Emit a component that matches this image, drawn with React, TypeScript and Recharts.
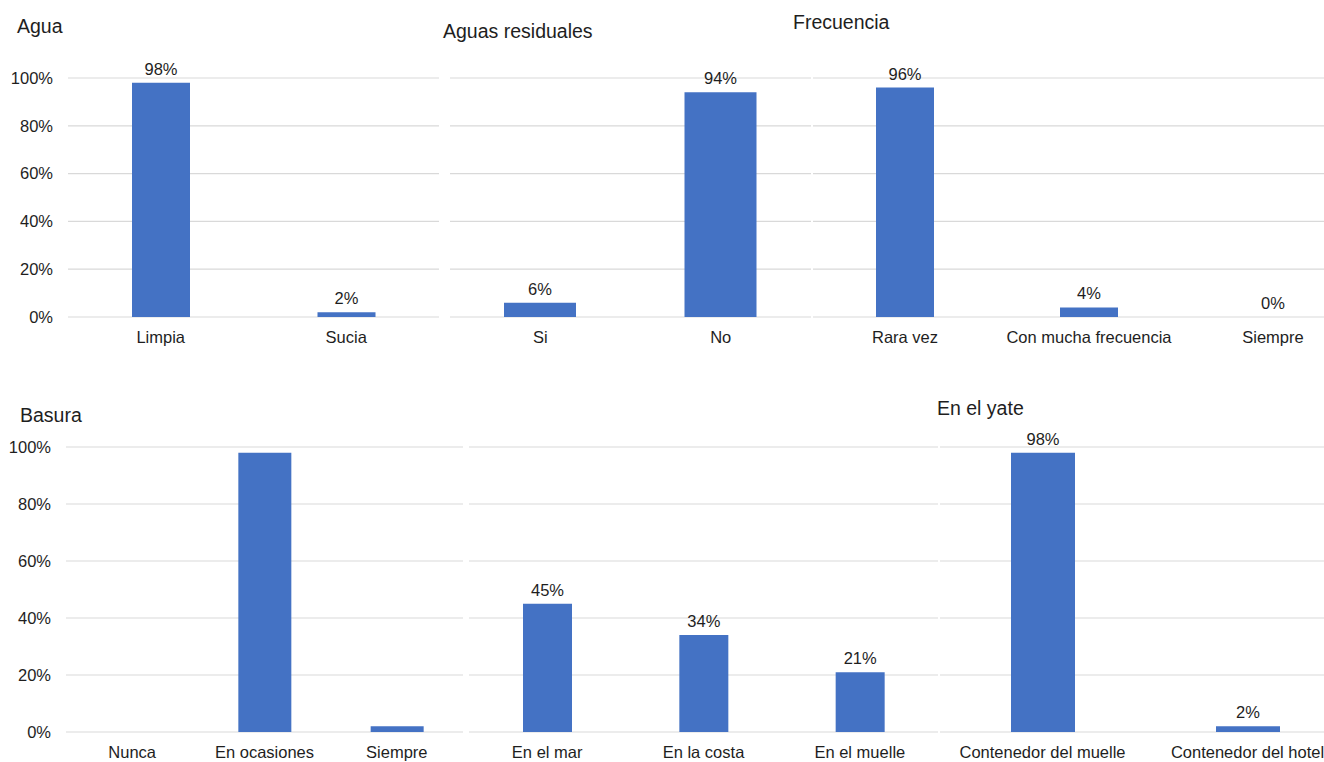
import { BarChart, Bar, XAxis, YAxis, CartesianGrid, LabelList } from 'recharts';

const yTicks = [0, 20, 40, 60, 80, 100];

const aguaCategorias = ['Limpia', 'Sucia'];
const aguaValores = [98, 2];

const residualesCategorias = ['Si', 'No'];
const residualesValores = [6, 94];

const frecuenciaCategorias = ['Rara vez', 'Con mucha frecuencia', 'Siempre'];
const frecuenciaValores = [96, 4, 0];

const basuraCategorias = ['Nunca', 'En ocasiones', 'Siempre'];
const basuraValores = [0, 98, 2];

const lugarCategorias = ['En el mar', 'En la costa', 'En el muelle'];
const lugarValores = [45, 34, 21];

const yateCategorias = ['Contenedor del muelle', 'Contenedor del hotel'];
const yateValores = [98, 2];

const toRows = (cats: string[], vals: number[]) => cats.map((name, i) => ({ name, value: vals[i] }));

const BLUE = '#4472C4';
const TEXT = '#1e1e1e';
const FONT = '"Liberation Sans", Arial, sans-serif';

interface PanelProps {
  data: { name: string; value: number }[];
  plotLeft: number;
  plotTop: number;
  plotWidth: number;
  plotHeight: number;
  barSize: number;
  withAxis?: boolean;
  withLabels?: boolean;
}

function Panel({ data, plotLeft, plotTop, plotWidth, plotHeight, barSize, withAxis, withLabels }: PanelProps) {
  const axisW = withAxis ? 68 : 0;
  const marginTop = 40;
  const axisH = 34;
  return (
    <div style={{ position: 'absolute', left: plotLeft - axisW, top: plotTop - marginTop }}>
      <BarChart
        width={plotWidth + axisW}
        height={marginTop + plotHeight + axisH}
        data={data}
        margin={{ top: marginTop, right: 0, bottom: 0, left: 0 }}
      >
        <CartesianGrid vertical={false} stroke="#d9d9d9" strokeWidth={1.2} />
        <XAxis
          dataKey="name"
          axisLine={false}
          tickLine={false}
          height={axisH}
          tickMargin={8}
          interval={0}
          tick={{ fontSize: 16.5, fill: TEXT }}
        />
        <YAxis
          hide={!withAxis}
          width={axisW}
          domain={[0, 100]}
          ticks={yTicks}
          tickFormatter={(v) => `${v}%`}
          axisLine={false}
          tickLine={false}
          tickMargin={9}
          tick={{ fontSize: 16.5, fill: TEXT }}
        />
        <Bar dataKey="value" fill={BLUE} barSize={barSize} minPointSize={0.01} isAnimationActive={false}>
          {withLabels && (
            <LabelList
              dataKey="value"
              position="top"
              offset={8}
              formatter={(v: any) => `${v}%`}
              style={{ fontSize: 16.5, fill: TEXT }}
            />
          )}
        </Bar>
      </BarChart>
    </div>
  );
}

function Title({ text, left, top }: { text: string; left: number; top: number }) {
  return (
    <div style={{ position: 'absolute', left, top, fontSize: 19.5, lineHeight: '20px', color: TEXT, whiteSpace: 'nowrap' }}>
      {text}
    </div>
  );
}

export default function App() {
  return (
    <div
      style={{
        position: 'fixed',
        left: 0,
        top: 0,
        width: 1324,
        height: 762,
        overflow: 'hidden',
        background: '#fff',
        fontFamily: FONT,
      }}
    >
      <Panel data={toRows(aguaCategorias, aguaValores)} plotLeft={68} plotTop={78} plotWidth={371} plotHeight={239} barSize={58} withAxis withLabels />
      <Panel data={toRows(residualesCategorias, residualesValores)} plotLeft={450} plotTop={78} plotWidth={361} plotHeight={239} barSize={72} withLabels />
      <Panel data={toRows(frecuenciaCategorias, frecuenciaValores)} plotLeft={813} plotTop={78} plotWidth={552} plotHeight={239} barSize={58} withLabels />

      <Panel data={toRows(basuraCategorias, basuraValores)} plotLeft={66} plotTop={447} plotWidth={397} plotHeight={285} barSize={53} withAxis />
      <Panel data={toRows(lugarCategorias, lugarValores)} plotLeft={469} plotTop={447} plotWidth={469} plotHeight={285} barSize={49} withLabels />
      <Panel data={toRows(yateCategorias, yateValores)} plotLeft={940} plotTop={447} plotWidth={410} plotHeight={285} barSize={64} withLabels />

      <Title text="Agua" left={17} top={16} />
      <Title text="Aguas residuales" left={443} top={21} />
      <Title text="Frecuencia" left={793} top={12} />
      <Title text="Basura" left={20} top={405} />
      <Title text="En el yate" left={937} top={398} />
    </div>
  );
}
